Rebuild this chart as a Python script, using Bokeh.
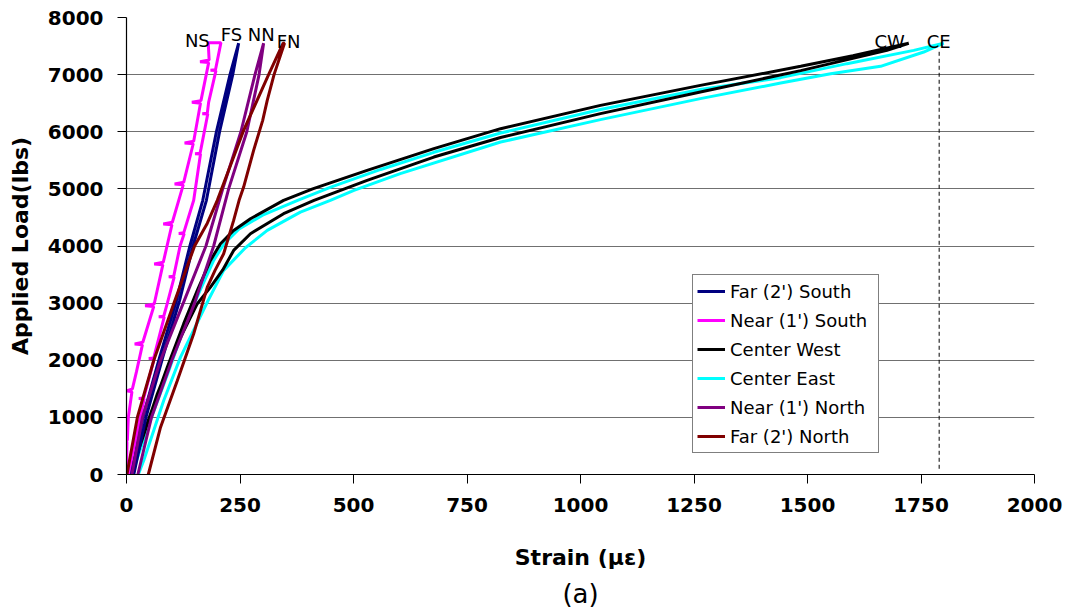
from bokeh.plotting import figure
from bokeh.models import Range1d, FixedTicker, Legend, LegendItem, Title
from bokeh.core.properties import value
from bokeh.embed import file_html
from bokeh.resources import INLINE

# ---------------- data (strain in micro-strain, load in lbs) ----------------
x_ticks = [0, 250, 500, 750, 1000, 1250, 1500, 1750, 2000]
y_ticks = [0, 1000, 2000, 3000, 4000, 5000, 6000, 7000, 8000]

# Far (2') South
fs_strain = [10, 36, 73, 110, 139, 168, 198, 228, 247,
             234, 205, 176, 146, 117, 80, 43, 16]
fs_load = [0, 1003, 2054, 3047, 3982, 4800, 6000, 7000, 7550,
           7000, 6000, 4800, 3982, 3047, 2054, 1003, 0]

# Near (1') South (with logger spikes)
ns_strain = [0, 1, 0, 2, 4, 12, 0, 13, 22, 35, 18, 36, 60, 41, 61, 80, 61, 81,
             100, 81, 101, 125, 106, 126, 147, 128, 148, 163, 144, 164,
             181, 162, 182, 180, 208,
             196, 185, 197, 181, 178, 167, 179, 164, 162, 151, 163, 148,
             126, 115, 127, 118, 104, 93, 105, 90, 82, 71, 83, 60, 49, 61,
             38, 27, 39, 30, 4]
ns_load = [0, 560, 575, 610, 1000, 1450, 1465, 1500, 1800, 2270, 2285, 2315,
           2940, 2955, 2985, 3670, 3685, 3715, 4370, 4385, 4415, 5070, 5085,
           5115, 5790, 5805, 5835, 6500, 6515, 6545, 7210, 7225, 7255, 7560,
           7560,
           7085, 7075, 7070, 6520, 6325, 6315, 6310, 5700, 5625, 5615, 5610,
           4800, 4230, 4220, 4215, 4000, 3470, 3460, 3455, 3000, 2770, 2760,
           2755, 2041, 2031, 2026, 1340, 1330, 1325, 1000, 0]

# Center West
cw_strain = [8, 16, 53, 90, 126, 156, 185, 207, 236, 273, 346, 410, 530,
             677, 824, 1044, 1264, 1485, 1600, 1723,
             1675, 1485, 1264, 1044, 824, 677, 530, 413, 346, 273, 236, 212,
             185, 156, 112, 68, 24, 12]
cw_load = [0, 245, 1063, 1880, 2640, 3222, 3748, 4040, 4273, 4478, 4799, 5000,
           5324, 5704, 6054, 6462, 6812, 7145, 7330, 7550,
           7425, 7070, 6695, 6317, 5900, 5557, 5149, 4799, 4565, 4215, 3923,
           3580, 3280, 2990, 2289, 1413, 362, 0]

# Center East
ce_strain = [15, 22, 58, 96, 130, 162, 192, 215, 248, 300, 377, 450, 560, 677,
             824, 1044, 1264, 1441, 1587, 1734, 1800,
             1756, 1661, 1551, 1441, 1264, 1044, 824, 603, 501, 449, 383, 310,
             262, 214, 180, 119, 82, 38, 26]
ce_load = [0, 245, 1063, 1880, 2640, 3222, 3748, 4040, 4300, 4540, 4800, 5030,
           5340, 5640, 5977, 6390, 6740, 6947, 7192, 7425, 7550,
           7396, 7145, 7017, 6853, 6580, 6212, 5820, 5266, 4974, 4800, 4594,
           4273, 3970, 3573, 3050, 2054, 1296, 245, 0]

# Near (1') North
nn_strain = [12, 35, 75, 125, 175, 212, 252, 283, 302,
             292, 265, 225, 192, 150, 100, 55, 25]
nn_load = [0, 1000, 2000, 3000, 4000, 5000, 6000, 7000, 7550,
           7000, 6000, 5000, 4000, 3000, 2000, 1000, 0]

# Far (2') North
fn_strain = [1, 24, 60, 104, 150, 178, 200, 236, 258, 313, 345,
             348, 325, 310, 300, 280, 258, 248, 236, 214, 195, 178, 148, 112,
             75, 48]
fn_load = [0, 1003, 1996, 2990, 4000, 4400, 4800, 5557, 6024, 7000, 7550,
           7550, 7000, 6550, 6200, 5674, 5032, 4800, 4448, 3865, 3573, 3280,
           2464, 1646, 828, 0]

# CE peak reference (dashed)
ce_ref_strain = [1790, 1790]
ce_ref_load = [100, 7450]

# curve tags
tag_text = ["NS", "FS", "NN", "FN", "CW", "CE"]
tag_strain = [156, 231, 297, 357, 1681, 1789]
tag_load = [7600, 7700, 7700, 7583, 7588, 7588]

# ---------------- figure ----------------
FONT = "DejaVu Sans"
p = figure(width=1068, height=613, output_backend="svg", toolbar_location=None,
           x_range=Range1d(0, 2000), y_range=Range1d(0, 8000),
           min_border_left=126, min_border_right=34, min_border_top=17,
           min_border_bottom=139)
p.outline_line_color = None
p.background_fill_color = "white"
p.border_fill_color = "white"
p.xgrid.visible = False
p.ygrid.grid_line_color = "#707070"
p.ygrid.grid_line_width = 1

for ax in (p.xaxis, p.yaxis):
    ax.axis_line_color = "black"
    ax.axis_line_width = 1.2
    ax.major_tick_line_color = "black"
    ax.major_tick_out = 9
    ax.major_tick_in = 0
    ax.minor_tick_line_color = None
    ax.major_label_text_font = FONT
    ax.major_label_text_font_style = "bold"
    ax.major_label_text_font_size = "20px"
    ax.major_label_text_color = "black"
    ax.axis_label_text_font = FONT
    ax.axis_label_text_font_style = "bold"
    ax.axis_label_text_font_size = "22px"
    ax.axis_label_text_color = "black"
    ax.major_label_standoff = 14

p.xaxis.ticker = FixedTicker(ticks=x_ticks)
p.yaxis.ticker = FixedTicker(ticks=y_ticks)
p.xaxis.axis_label = "Strain (\u03bc\u03b5)"
p.yaxis.axis_label = "Applied Load(lbs)"
p.xaxis.axis_label_standoff = 30
p.yaxis.axis_label_standoff = 12

LW = 3
r_ce = p.line(ce_strain, ce_load, line_color="#00FFFF", line_width=LW)
r_cw = p.line(cw_strain, cw_load, line_color="black", line_width=LW)
r_fs = p.line(fs_strain, fs_load, line_color="#000080", line_width=LW)
r_ns = p.line(ns_strain, ns_load, line_color="#FF00FF", line_width=LW)
r_nn = p.line(nn_strain, nn_load, line_color="#800080", line_width=LW)
r_fn = p.line(fn_strain, fn_load, line_color="#800000", line_width=LW)

p.line(ce_ref_strain, ce_ref_load, line_color="black", line_width=1,
       line_dash="4 3")

p.text(x=tag_strain, y=tag_load, text=tag_text, text_font=value(FONT),
       text_font_size="18px", text_align="center",
       text_baseline="alphabetic", text_color="black")

legend = Legend(items=[
    LegendItem(label="Far (2') South", renderers=[r_fs]),
    LegendItem(label="Near (1') South", renderers=[r_ns]),
    LegendItem(label="Center West", renderers=[r_cw]),
    LegendItem(label="Center East", renderers=[r_ce]),
    LegendItem(label="Near (1') North", renderers=[r_nn]),
    LegendItem(label="Far (2') North", renderers=[r_fn]),
], location=(566, 21))
legend.label_text_font = FONT
legend.label_text_font_size = "18px"
legend.label_text_color = "black"
legend.glyph_width = 28
legend.glyph_height = 24
legend.label_height = 24
legend.label_standoff = 5
legend.label_width = 144
legend.spacing = 5
legend.padding = 4
legend.margin = 0
legend.border_line_color = "black"
legend.border_line_width = 1
legend.background_fill_color = "white"
legend.background_fill_alpha = 1
p.add_layout(legend, "center")

p.add_layout(Title(text="(a)", align="center", text_font=FONT,
                   text_font_size="26px", text_font_style="normal",
                   text_color="black", standoff=8), "below")

open("out.html", "w").write(file_html(p, INLINE))
